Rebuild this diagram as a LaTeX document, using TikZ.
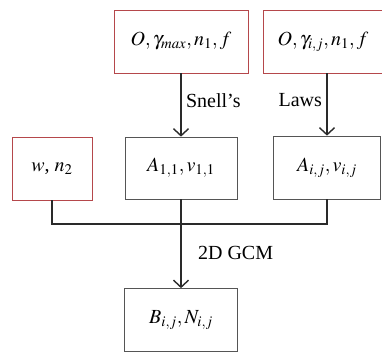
\documentclass[tikz,border=0pt]{standalone}
\usepackage{mathptmx}
\usepackage{fontspec}
\setmainfont{Liberation Serif}
\usetikzlibrary{positioning, arrows.meta}
\definecolor{given}{HTML}{B5474B}
\definecolor{ink}{HTML}{2a2a2a}

\begin{document}
\begin{tikzpicture}[x=1pt, y=-1pt,
  every node/.style={font=\fontsize{20}{23}\selectfont, align=center},
  inbox/.style={draw=given, line width=0.8pt, inner sep=0pt},
  outbox/.style={draw=ink!80, line width=0.7pt, inner sep=0pt},
  link/.style={draw=ink, line width=1.5pt},
  tip/.style={-{Straight Barb[length=7pt, width=15pt, line width=1.4pt]}}]
\useasboundingbox (0,0) rectangle (382,351);
\clip (0,0) rectangle (382,351);

\node[inbox, minimum width=134pt, minimum height=63pt] (src1) at (181,41.5)
      {$O,\gamma_{max},n_1,f$};
\node[inbox, minimum width=134pt, minimum height=63pt] (src2) at (330,41.5)
      {\hspace*{-14pt}$O,\gamma_{i,j},n_1,f$};

\node[inbox, minimum width=80pt, minimum height=63pt] (w) at (52,168.5)
      {$w$, $n_2$};
\node[outbox, minimum width=112pt, minimum height=62pt] (a11) at (181,168)
      {$A_{1,1},v_{1,1}$};
\node[outbox, minimum width=107pt, minimum height=63pt] (aij) at (327,167.5)
      {$A_{i,j},v_{i,j}$};

\node[outbox, minimum width=113pt, minimum height=63pt] (b) at (181,320)
      {$B_{i,j},N_{i,j}$};

\coordinate (bus) at (181,224);

\draw[link, tip] (src1.south -| a11.north) -- (a11.north)
      node[pos=0.43, right=1pt] {Snell's};
\draw[link, tip] (src2.south -| aij.north) -- (aij.north)
      node[pos=0.43, left=1pt] {Laws};
\draw[link] (w.south) -- (w.south |- bus) -- (aij.south |- bus) -- (aij.south);
\draw[link] (a11.south) -- (bus);
\draw[link, tip] (bus) -- (b.north)
      node[pos=0.45, right=13pt] {2D GCM};
\end{tikzpicture}
\end{document}
